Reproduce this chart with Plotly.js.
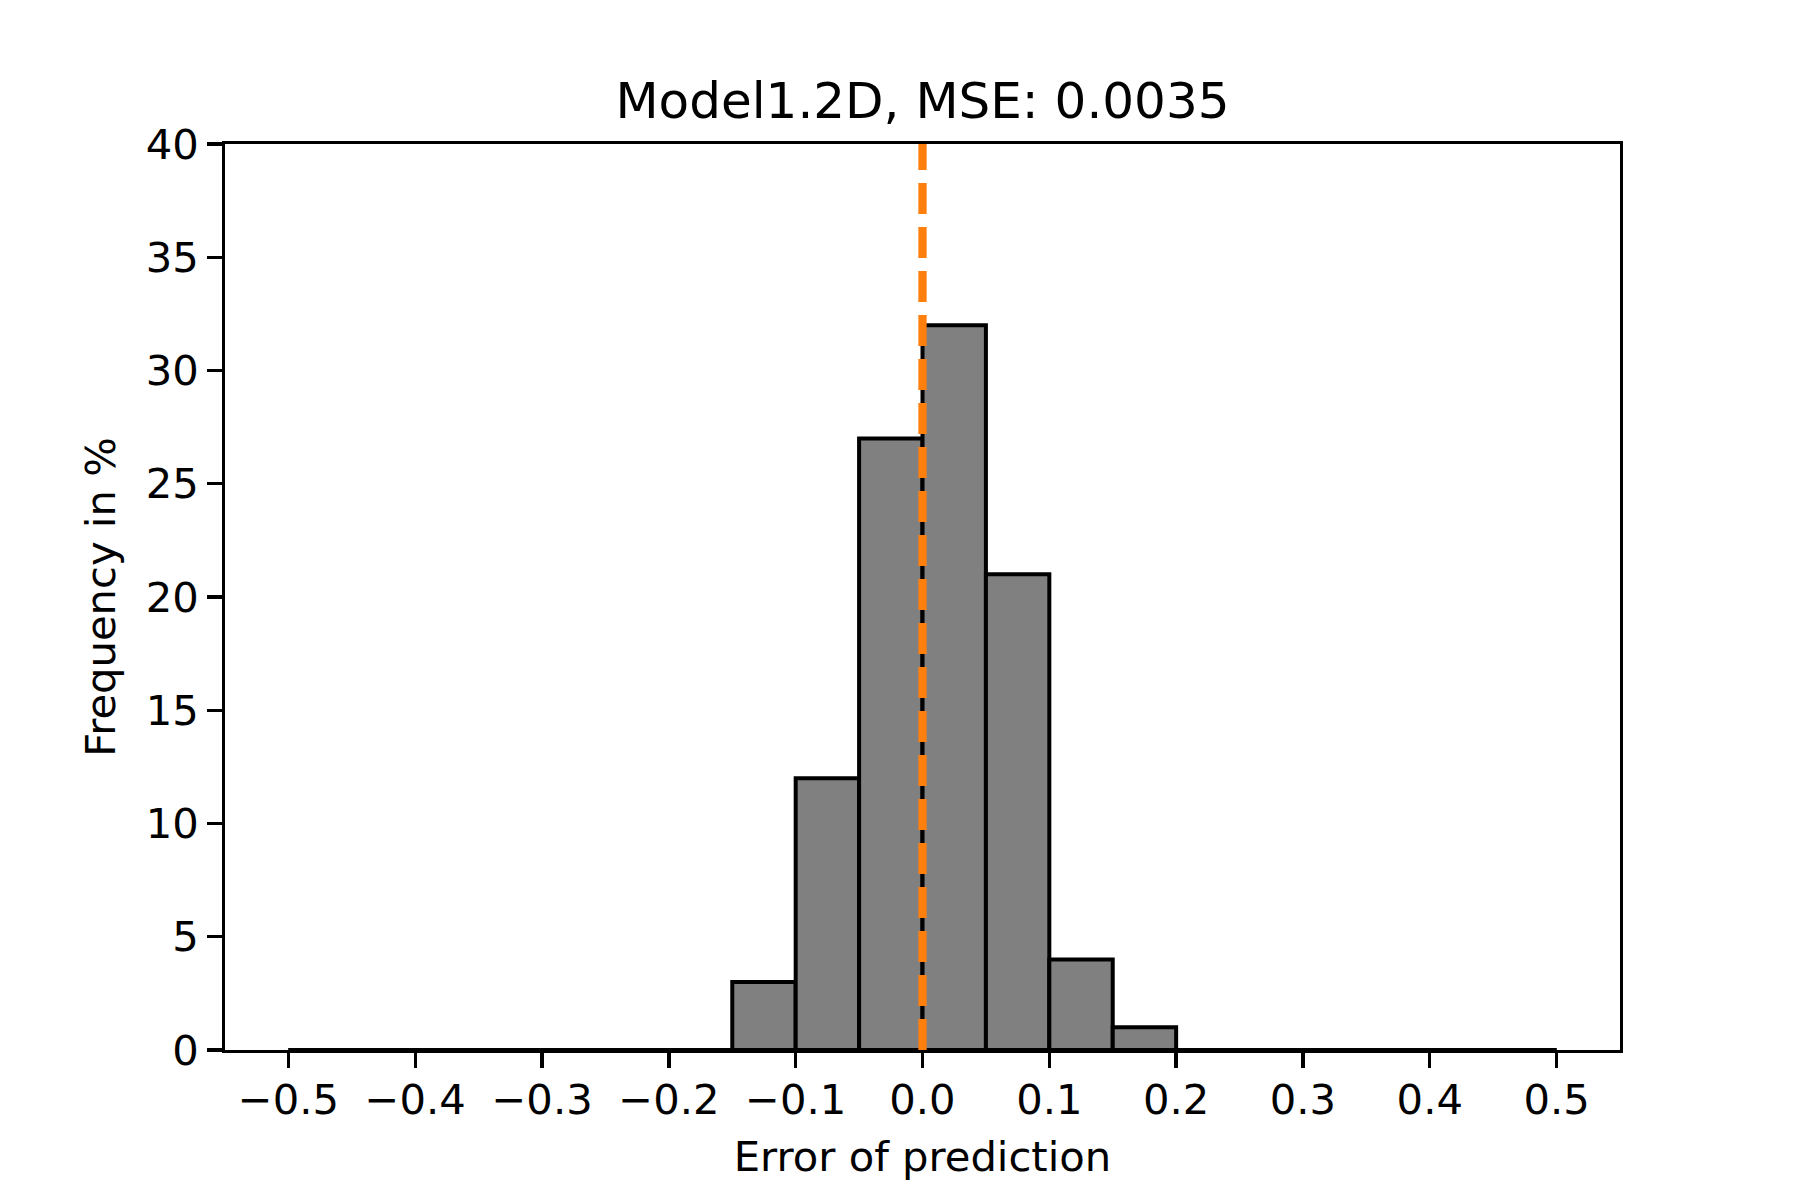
<!DOCTYPE html>
<html>
<head>
<meta charset="utf-8">
<script src="https://cdn.plot.ly/plotly-3.0.1.min.js"></script>
<style>html,body{margin:0;padding:0;background:#fff;}</style>
</head>
<body>
<div id="chart" style="width:1800px;height:1200px;"></div>
<script>
// Histogram bin edges (width 0.05) and frequency (%) per bin
const binEdges = [-0.5,-0.45,-0.4,-0.35,-0.3,-0.25,-0.2,-0.15,-0.1,-0.05,0.0,0.05,0.1,0.15,0.2,0.25,0.3,0.35,0.4,0.45,0.5];
const frequency = [0,0,0,0,0,0,0,3,12,27,32,21,4,1,0,0,0,0,0,0];
const meanLineX = 0.0;
const xTickVals = [-0.5,-0.4,-0.3,-0.2,-0.1,0.0,0.1,0.2,0.3,0.4,0.5];
const xTickText = ["\u22120.5","\u22120.4","\u22120.3","\u22120.2","\u22120.1","0.0","0.1","0.2","0.3","0.4","0.5"];
const yTickVals = [0,5,10,15,20,25,30,35,40];
const titleText = "Model1.2D, MSE: 0.0035";
const xLabel = "Error of prediction";
const yLabel = "Frequency in %";

const centers = frequency.map((v,i)=> (binEdges[i]+binEdges[i+1])/2);
const widths = frequency.map((v,i)=> binEdges[i+1]-binEdges[i]);

const FONT = "DejaVu Sans, sans-serif";

const traces = [
  {
    type: 'scatter', mode: 'lines',
    x: [binEdges[0], binEdges[binEdges.length-1]], y: [0,0],
    line: {color: '#000', width: 4},
    hoverinfo: 'skip', showlegend: false, cliponaxis: false
  },
  {
    type: 'bar', x: centers, y: frequency, width: widths,
    marker: {color: '#808080', line: {color: '#000', width: 4}},
    showlegend: false
  },
  {
    type: 'scatter', mode: 'lines',
    x: [meanLineX, meanLineX], y: [0, 40],
    line: {color: '#ff7f0e', width: 8.3, dash: '31px,13px'},
    showlegend: false
  }
];

const axisCommon = {
  showgrid: false, zeroline: false,
  showline: true, linecolor: '#000', linewidth: 3.3, mirror: true,
  ticks: 'outside', ticklen: 14.6, tickwidth: 3.3, tickcolor: '#000',
  tickfont: {family: FONT, size: 41.7, color: '#000'},
  layer: 'above traces'
};

const layout = {
  width: 1800, height: 1200,
  paper_bgcolor: '#fff', plot_bgcolor: '#fff',
  margin: {l: 225, r: 180, t: 144, b: 150, pad: 0},
  bargap: 0,
  showlegend: false,
  font: {family: FONT, color: '#000'},
  title: {
    text: titleText, font: {family: FONT, size: 50, color: '#000'},
    x: 922.5/1800, xanchor: 'center', xref: 'container',
    y: 1 - 118/1200, yanchor: 'bottom', yref: 'container'
  },
  xaxis: Object.assign({}, axisCommon, {
    range: [-0.55, 0.55], tickmode: 'array', tickvals: xTickVals, ticktext: xTickText,
    ticklabelstandoff: -4,
    title: {text: xLabel, font: {family: FONT, size: 41.7, color: '#000'}, standoff: 20}
  }),
  yaxis: Object.assign({}, axisCommon, {
    range: [0, 40], tickmode: 'array', tickvals: yTickVals, ticktext: yTickVals.map(String),
    title: {text: yLabel, font: {family: FONT, size: 41.7, color: '#000'}, standoff: 18}
  })
};

Plotly.newPlot('chart', traces, layout, {displayModeBar: false, staticPlot: true});
</script>
</body>
</html>
